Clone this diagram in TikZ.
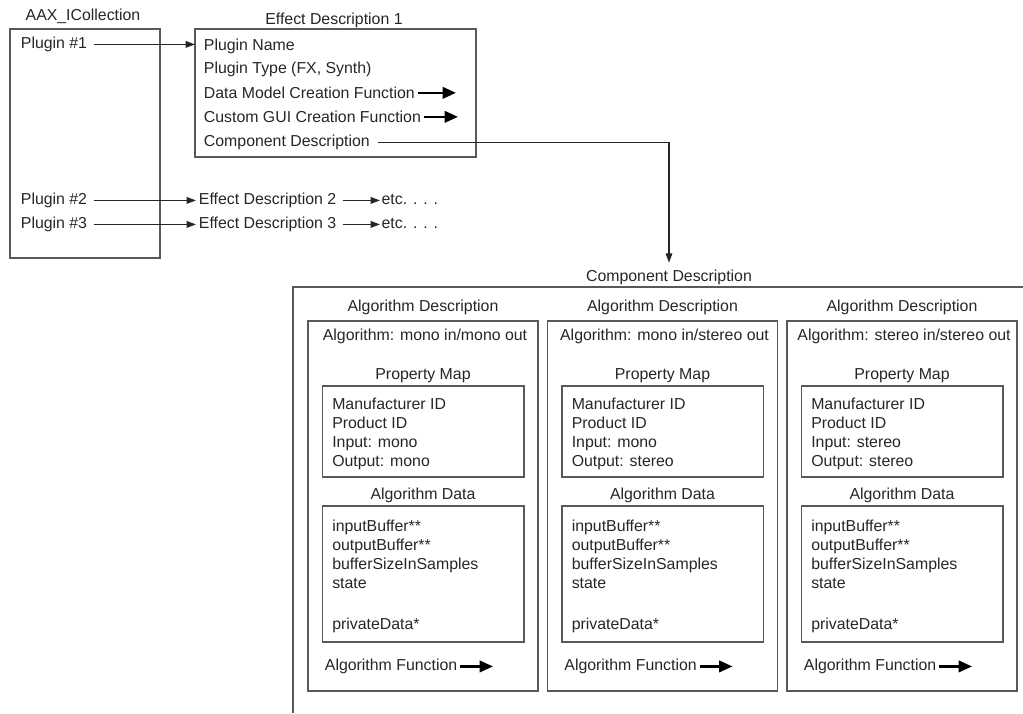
\documentclass[tikz,border=0pt]{standalone}
\usepackage{fontspec}
\setmainfont{Liberation Sans}
\usetikzlibrary{positioning,arrows.meta}

\begin{document}
\begin{tikzpicture}[
  x=0.75pt, y=-0.75pt,
  font=\fontsize{11.9}{14.3}\selectfont,
  every node/.style={inner sep=2pt, text=black!85},
  txt/.style={anchor=mid west},
  ttl/.style={anchor=center},
  lst/.style={anchor=north west, align=left, inner sep=0pt},
  frame/.style={draw=black!65, line width=1.1pt},
  link/.style={->, draw=black!85, line width=0.8pt, shorten <=3pt},
  fat/.style={-{Triangle[length=10pt, width=8.5pt]}, draw=black, line width=2pt},
  >={Triangle[length=7pt, width=5pt]}
]
\useasboundingbox (0,0) rectangle (1023,713);
% collection
\node[ttl] (colltitle) at (83,16) {AAX\_ICollection};
\draw[frame] (10,29) rectangle (160,258);
\node[txt] (p1) at (18,45) {Plugin \#1};
\node[txt] (p2) at (18,201) {Plugin \#2};
\node[txt] (p3) at (18,225) {Plugin \#3};
% effect description 1
\node[ttl] (edtitle) at (334,20) {Effect Description 1};
\draw[frame] (195,29) coordinate (ednw) rectangle (476,157);
\node[txt] (pname) at (201,47) {Plugin Name};
\node[txt] (ptype) at (201,70) {Plugin Type (FX, Synth)};
\node[txt] (dmodel) at (201,95) {Data Model Creation Function};
\node[txt] (cgui) at (201,119) {Custom GUI Creation Function};
\node[txt] (cdesc) at (201,143) {Component Description};
\coordinate (dmtip) at (456,95);
\coordinate (cgtip) at (458,119);
% effect descriptions 2 and 3
\node[txt] (ed2) at (196,201) {Effect Description 2};
\node[txt] (ed3) at (196,225) {Effect Description 3};
\node[txt, inner sep=1pt] (etc2) at (380,201) {etc. . . .};
\node[txt, inner sep=1pt] (etc3) at (380,225) {etc. . . .};
\draw[link] (p1) -- (p1 -| ednw);
\draw[link] (p2) -- (p2 -| ed2.west);
\draw[link] (p3) -- (p3 -| ed3.west);
\draw[link] (ed2) -- (ed2 -| etc2.west);
\draw[link] (ed3) -- (ed3 -| etc3.west);
\draw[fat] (dmodel.east) -- (dmodel.east -| dmtip);
\draw[fat] (cgui.east) -- (cgui.east -| cgtip);
% component description
\node[ttl] (comptitle) at (669,277) {Component Description};
\draw[frame] (293,713) -- (293,287) -- (1023,287);
\draw[link, shorten <=4pt, shorten >=3pt] (cdesc.east) -- (cdesc.east -| comptitle.north) -- (comptitle.north);
\foreach \L/\inp/\outp [count=\i] in {308/mono/mono, 547.5/mono/stereo, 787/stereo/stereo} {
  \node[ttl] (adtitle\i) at (\L+115,307) {Algorithm Description};
  \draw[frame] (\L,321) rectangle (\L+230,691);
  \node[ttl] (alg\i) at (\L+117,336) {Algorithm: \inp{} in/\outp{} out};
  \node[ttl] (pmtitle\i) at (\L+115,376) {Property Map};
  \draw[frame] (\L+14.5,386) rectangle (\L+216,477);
  \node[lst] (pm\i) at (\L+24,398) {Manufacturer ID\\Product ID\\Input: \inp\\Output: \outp};
  \node[ttl] (adata\i) at (\L+115,495) {Algorithm Data};
  \draw[frame] (\L+14.5,506) rectangle (\L+216,642);
  \node[lst] (data\i) at (\L+24,519.5) {inputBuffer**\\outputBuffer**\\bufferSizeInSamples\\state\\[16.5pt]privateData*};
  \node[txt] (afunc\i) at (\L+14,667) {Algorithm Function};
  \coordinate (aftip\i) at (\L+185,667);
  \draw[fat] (afunc\i.east) -- (afunc\i.east -| aftip\i);
}
\end{tikzpicture}
\end{document}
